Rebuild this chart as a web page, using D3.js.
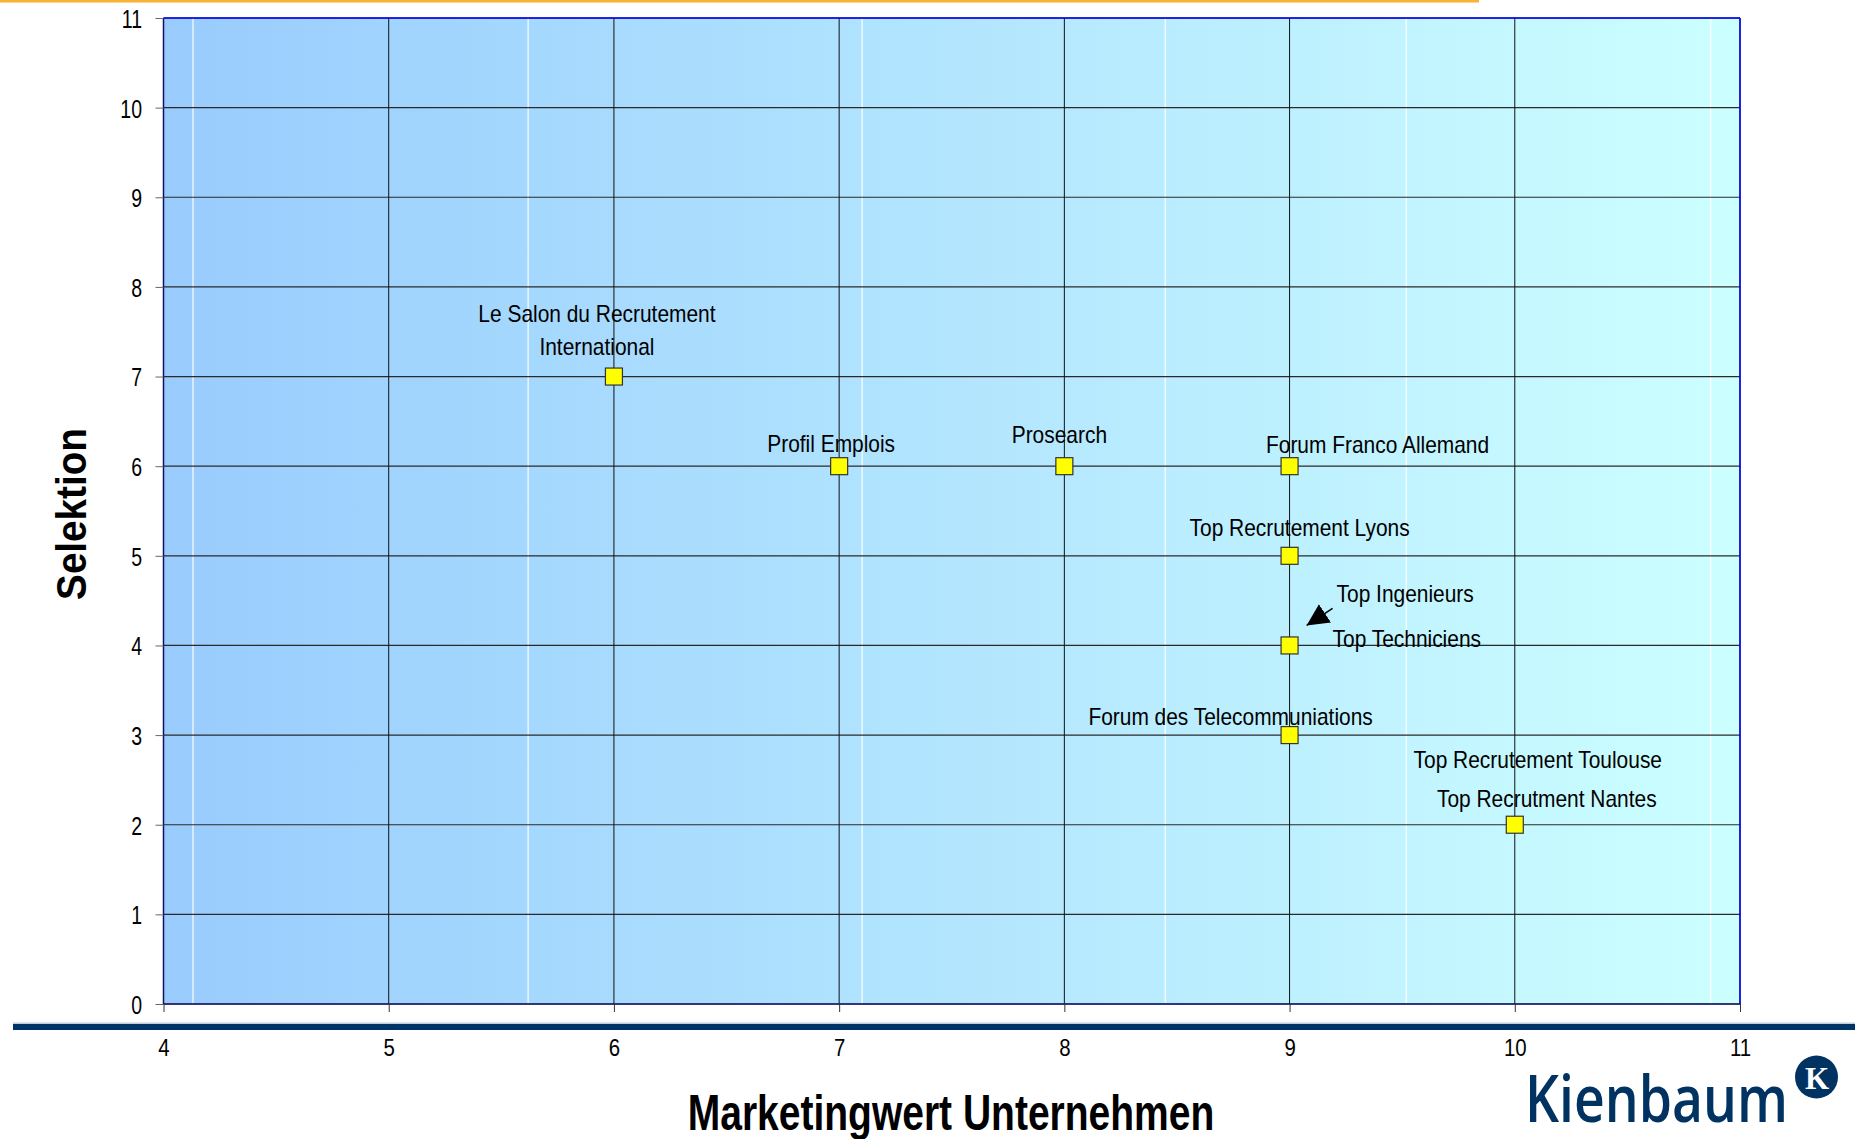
<!DOCTYPE html>
<html>
<head>
<meta charset="utf-8">
<script src="https://cdn.jsdelivr.net/npm/d3@7"></script>
<style>
  html, body { margin: 0; padding: 0; background: #ffffff; }
  svg { display: block; }
  text { font-family: "Liberation Sans", Arial, sans-serif; fill: #000; }
</style>
</head>
<body>
<svg id="chart" width="1855" height="1139"></svg>
<script>
// ---------- data ----------
const names = [
  ["Le Salon du Recrutement", "International"],
  ["Profil Emplois"],
  ["Prosearch"],
  ["Forum Franco Allemand"],
  ["Top Recrutement Lyons"],
  ["Top Ingenieurs", "Top Techniciens"],
  ["Forum des Telecommuniations"],
  ["Top Recrutement Toulouse", "Top Recrutment Nantes"]
];
const marketingwert = [6, 7, 8, 9, 9, 9, 9, 10];
const selektion     = [7, 6, 6, 6, 5, 4, 3, 2];
const xTicks = [4, 5, 6, 7, 8, 9, 10, 11];
const yTicks = [0, 1, 2, 3, 4, 5, 6, 7, 8, 9, 10, 11];
const xTitle = "Marketingwert Unternehmen";
const yTitle = "Selektion";
const brand = "Kienbaum";

// ---------- layout (label offsets in px relative to each point) ----------
const labelLayout = [
  [{dx: -17, dy: -55, a: "middle"}, {dx: -17, dy: -22, a: "middle"}],
  [{dx: -8, dy: -14, a: "middle"}],
  [{dx: -5, dy: -23, a: "middle"}],
  [{dx: 88, dy: -13, a: "middle"}],
  [{dx: 10, dy: -20, a: "middle"}],
  [{dx: 47, dy: -43, a: "start"}, {dx: 43, dy: 2, a: "start"}],
  [{dx: -59, dy: -10, a: "middle"}],
  [{dx: 23, dy: -57, a: "middle"}, {dx: 32, dy: -18, a: "middle"}]
];
// faint white streaks in the gradient fill (x in data units)
const streaks = [4.131, 5.619, 7.102, 8.448, 9.518, 10.87];

const svg = d3.select("#chart");
const L = 163.5, R = 1740, T = 18, B = 1004;
const x = d3.scaleLinear().domain([4, 11]).range([L, R]);
const y = d3.scaleLinear().domain([0, 11]).range([B, T]);

function stext(sel, tx, ty, str, o) {
  return sel.append("text")
    .attr("transform", `translate(${tx},${ty})` + (o.rot ? ` rotate(${o.rot})` : "") + ` scale(${o.sx || 1},1)`)
    .attr("text-anchor", o.anchor || "middle")
    .attr("font-size", o.size)
    .attr("font-weight", o.weight || "normal")
    .style("font-family", o.family || null)
    .style("fill", o.fill || "#000")
    .text(str);
}

// top orange line
svg.append("rect").attr("x", 0).attr("y", 0).attr("width", 1479).attr("height", 2.5).attr("fill", "#F9B233");

// gradient background
const defs = svg.append("defs");
const grad = defs.append("linearGradient").attr("id", "bg").attr("x1", "0").attr("x2", "1").attr("y1", "0").attr("y2", "0");
grad.append("stop").attr("offset", "0%").attr("stop-color", "#99CCFD");
grad.append("stop").attr("offset", "100%").attr("stop-color", "#CCFFFF");
svg.append("rect").attr("x", L).attr("y", T).attr("width", R - L).attr("height", B - T).attr("fill", "url(#bg)");

svg.append("g").selectAll("line").data(streaks).join("line")
  .attr("x1", d => x(d)).attr("x2", d => x(d)).attr("y1", T).attr("y2", B)
  .attr("stroke", "#ffffff").attr("stroke-width", 1.3).attr("opacity", 0.9);

// gridlines
svg.append("g").selectAll("line").data(yTicks).join("line")
  .attr("x1", L).attr("x2", R).attr("y1", d => y(d)).attr("y2", d => y(d))
  .attr("stroke", "#2a2a2a").attr("stroke-width", 1.2);
svg.append("g").selectAll("line").data(xTicks).join("line")
  .attr("x1", d => x(d)).attr("x2", d => x(d)).attr("y1", T).attr("y2", B)
  .attr("stroke", "#111").attr("stroke-width", 1);

// borders
svg.append("line").attr("x1", L).attr("x2", R).attr("y1", T).attr("y2", T).attr("stroke", "#0000FF").attr("stroke-width", 1.5);
svg.append("line").attr("x1", R).attr("x2", R).attr("y1", T).attr("y2", B).attr("stroke", "#0000FF").attr("stroke-width", 1.5);
svg.append("line").attr("x1", L).attr("x2", L).attr("y1", T).attr("y2", B).attr("stroke", "#101060").attr("stroke-width", 1.5);
svg.append("line").attr("x1", L).attr("x2", R).attr("y1", B).attr("y2", B).attr("stroke", "#1a1a70").attr("stroke-width", 1.5);

// axes
const yAxis = svg.append("g").attr("transform", `translate(${L},0)`)
  .call(d3.axisLeft(y).tickValues(yTicks).tickSize(8).tickFormat(d3.format("d")));
yAxis.select(".domain").remove();
yAxis.selectAll(".tick line").attr("stroke", "#666");
yAxis.selectAll(".tick text")
  .attr("x", null).attr("dy", "0.36em")
  .attr("transform", "translate(-21.5,0) scale(0.75,1)")
  .attr("font-size", 26).attr("text-anchor", "end")
  .style("font-family", "'Liberation Sans', Arial, sans-serif").attr("fill", "#000");

const xAxis = svg.append("g").attr("transform", `translate(0,${B})`)
  .call(d3.axisBottom(x).tickValues(xTicks).tickSize(8).tickFormat(d3.format("d")));
xAxis.select(".domain").remove();
xAxis.selectAll(".tick line").attr("stroke", "#333");
xAxis.selectAll(".tick text")
  .attr("y", null).attr("dy", null)
  .attr("transform", "translate(0,52) scale(0.85,1)")
  .attr("font-size", 24)
  .style("font-family", "'Liberation Sans', Arial, sans-serif").attr("fill", "#000");

// thick navy rule
svg.append("rect").attr("x", 13).attr("y", 1022.5).attr("width", 1842).attr("height", 1.5).attr("fill", "#c4cedc");
svg.append("rect").attr("x", 13).attr("y", 1024).attr("width", 1842).attr("height", 6).attr("fill", "#003366");

// labels
const points = marketingwert.map((v, i) => ({x: v, y: selektion[i], names: names[i], lay: labelLayout[i]}));
const lab = svg.append("g");
points.forEach(p => {
  p.names.forEach((n, j) => {
    const l = p.lay[j];
    stext(lab, x(p.x) + l.dx, y(p.y) + l.dy, n, {size: 23, sx: 0.91, anchor: l.a});
  });
});

// arrow for Top Ingenieurs
defs.append("marker").attr("id", "arr").attr("viewBox", "0 0 10 10").attr("refX", 10).attr("refY", 5)
  .attr("markerWidth", 22).attr("markerHeight", 22).attr("markerUnits", "userSpaceOnUse")
  .attr("orient", "auto")
  .append("path").attr("d", "M0,0 L10,5 L0,10 Z").attr("fill", "#000");
{
  const p = points[5];
  const px = x(p.x), py = y(p.y);
  svg.append("line")
    .attr("x1", px + 43).attr("y1", py - 37)
    .attr("x2", px + 17).attr("y2", py - 20)
    .attr("stroke", "#000").attr("stroke-width", 1.5)
    .attr("marker-end", "url(#arr)");
}

// markers
svg.append("g").selectAll("rect").data(points).join("rect")
  .attr("x", d => x(d.x) - 8.5).attr("y", d => y(d.y) - 8.5)
  .attr("width", 17).attr("height", 17)
  .attr("fill", "#FFFF00").attr("stroke", "#333").attr("stroke-width", 1.2);

// axis titles
stext(svg, 951, 1130, xTitle, {size: 50, weight: "bold", sx: 0.78});
stext(svg, 86, 514, yTitle, {size: 42, weight: "bold", sx: 0.92, rot: -90});

// brand logo
svg.append("text").attr("x", 1525).attr("y", 1122)
  .attr("textLength", 263).attr("lengthAdjust", "spacingAndGlyphs")
  .attr("font-size", 66).attr("font-weight", 600)
  .style("font-family", "'Open Sans', 'Noto Sans', sans-serif")
  .style("fill", "#003362").text(brand);
svg.append("circle").attr("cx", 1816.5).attr("cy", 1077).attr("r", 21.5).attr("fill", "#003362");
svg.append("text").attr("x", 1817).attr("y", 1088.5).attr("text-anchor", "middle")
  .attr("font-size", 31).attr("font-weight", "bold")
  .style("font-family", "'Liberation Serif', serif").style("fill", "#fff").text("K");
</script>
</body>
</html>
